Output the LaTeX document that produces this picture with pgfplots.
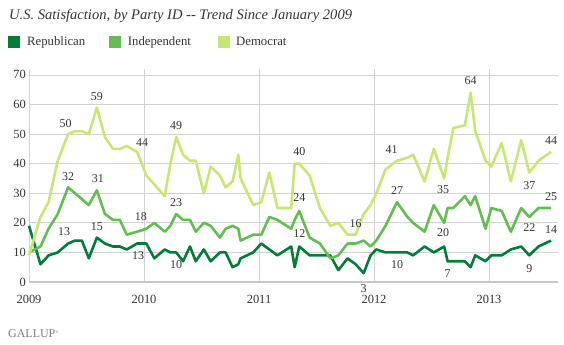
\documentclass[border=0pt]{standalone}
\usepackage{fontspec}
\setmainfont{Liberation Serif}
\usepackage{pgfplots}
\pgfplotsset{compat=1.18}
\usepackage{pgfplotstable}
\definecolor{rep}{RGB}{0,125,55}
\definecolor{ind}{RGB}{98,190,80}
\definecolor{dem}{RGB}{200,230,115}
\definecolor{gridc}{RGB}{210,210,210}
\definecolor{axisc}{RGB}{200,200,200}
\definecolor{txt}{RGB}{51,51,51}
\definecolor{logo}{RGB}{125,125,125}
\tikzset{lab/.style={font=\fontsize{12}{12}\selectfont, text=txt, inner sep=0pt, anchor=center}}

\pgfplotstableread{
x R I D
2009.00 19 10 9
2009.10 6 12 22
2009.17 9 18 27
2009.25 10 23 41
2009.34 13 32 50
2009.40 14 30 51
2009.46 14 28 51
2009.52 8 26 50
2009.59 15 31 59
2009.66 13 23 49
2009.73 12 21 45
2009.79 12 21 45
2009.85 11 16 46
2009.94 13 17 44
2010.02 13 18 36
2010.09 8 20 33
2010.18 11 17 29
2010.23 10 19 40
2010.28 10 23 49
2010.34 7 21 43
2010.40 12 21 41
2010.45 7 17 41
2010.52 11 20 30
2010.58 7 19 39
2010.66 10 15 36
2010.71 10 18 32
2010.77 5 19 34
2010.82 6 18 43
2010.84 8 14 35
2010.95 10 16 26
2011.02 13 16 27
2011.09 11 22 37
2011.16 9 21 25
2011.24 11 19 25
2011.28 12 18 25
2011.31 5 21 40
2011.35 12 24 40
2011.44 9 15 36
2011.53 9 13 25
2011.62 9 8 19
2011.69 4 9 20
2011.77 8 13 16
2011.84 6 13 16
2011.91 3 14 23
2011.97 9 12 26
2012.02 11 14 30
2012.10 10 19 38
2012.20 10 27 41
2012.29 10 22 42
2012.34 9 20 43
2012.44 12 17 34
2012.52 10 26 45
2012.61 12 20 35
2012.64 7 25 42
2012.69 7 25 52
2012.79 7 29 53
2012.84 5 26 64
2012.88 9 29 51
2012.97 7 18 41
2013.02 9 25 39
2013.11 9 24 47
2013.19 11 17 34
2013.28 12 25 48
2013.35 9 22 37
2013.43 12 25 41
2013.54 14 25 44
}\data

\begin{document}
\begin{tikzpicture}[x=1bp,y=1bp]
\useasboundingbox (0,0) rectangle (564,344);
\begin{axis}[
  at={(29bp,62bp)}, anchor=south west,
  scale only axis, width=529bp, height=213bp,
  xmin=2009, xmax=2013.6, ymin=0, ymax=72,
  axis x line*=bottom, axis y line*=left,
  xtick={2009,2010,2011,2012,2013},
  xticklabels={2009,2010,2011,2012,2013},
  ytick={0,10,20,30,40,50,60,70},
  grid=major, major grid style={gridc, line width=0.8bp},
  major tick length=0pt,
  x axis line style={line width=2bp, draw=axisc},
  y axis line style={line width=0.8bp, draw=gridc},
  ticklabel style={font=\fontsize{12.5}{12.5}\selectfont, text=txt},
  yticklabel style={anchor=east, inner sep=0pt, xshift=-3bp},
  xticklabel style={anchor=north, inner sep=0pt, yshift=-13bp},
  /pgf/number format/assume math mode=true,
  clip=false,
]
\addplot[rep, line width=2.6bp, line join=round] table[x=x,y=R]{\data};
\addplot[ind, line width=2.6bp, line join=round] table[x=x,y=I]{\data};
\addplot[dem, line width=2.6bp, line join=round] table[x=x,y=D]{\data};
% Democrat labels
\node[lab, xshift=-2.5bp, yshift=11bp] at (axis cs:2009.34,50) {50};
\node[lab, yshift=11bp] at (axis cs:2009.59,59) {59};
\node[lab, xshift=5bp, yshift=9.5bp] at (axis cs:2009.94,44) {44};
\node[lab, yshift=11.5bp] at (axis cs:2010.28,49) {49};
\node[lab, yshift=12.5bp] at (axis cs:2011.35,40) {40};
\node[lab, yshift=11.5bp] at (axis cs:2011.84,16) {16};
\node[lab, xshift=-5.5bp, yshift=11.5bp] at (axis cs:2012.20,41) {41};
\node[lab, yshift=12.5bp] at (axis cs:2012.84,64) {64};
\node[lab, xshift=-1bp, yshift=-11.5bp] at (axis cs:2012.61,35) {35};
\node[lab, yshift=-13bp] at (axis cs:2013.35,37) {37};
\node[lab, yshift=11bp] at (axis cs:2013.54,44) {44};
% Independent labels
\node[lab, yshift=10.5bp] at (axis cs:2009.34,32) {32};
\node[lab, xshift=1bp, yshift=11.5bp] at (axis cs:2009.59,31) {31};
\node[lab, xshift=-5.5bp, yshift=12bp] at (axis cs:2010.02,18) {18};
\node[lab, yshift=11.5bp] at (axis cs:2010.28,23) {23};
\node[lab, yshift=13bp] at (axis cs:2011.35,24) {24};
\node[lab, yshift=11.5bp] at (axis cs:2012.20,27) {27};
\node[lab, xshift=-1bp, yshift=-10bp] at (axis cs:2012.61,20) {20};
\node[lab, yshift=-10.5bp] at (axis cs:2013.35,22) {22};
\node[lab, yshift=11bp] at (axis cs:2013.54,25) {25};
% Republican labels
\node[lab, xshift=-4bp, yshift=11.5bp] at (axis cs:2009.34,13) {13};
\node[lab, yshift=11.5bp] at (axis cs:2009.59,15) {15};
\node[lab, xshift=1bp, yshift=-12.5bp] at (axis cs:2009.94,13) {13};
\node[lab, yshift=-12bp] at (axis cs:2010.28,10) {10};
\node[lab, yshift=12.5bp] at (axis cs:2011.35,12) {12};
\node[lab, yshift=-15bp] at (axis cs:2011.91,3) {3};
\node[lab, yshift=-12.5bp] at (axis cs:2012.20,10) {10};
\node[lab, yshift=-12bp] at (axis cs:2012.64,7) {7};
\node[lab, yshift=-13.5bp] at (axis cs:2013.35,9) {9};
\node[lab, yshift=11bp] at (axis cs:2013.54,14) {14};
\end{axis}
% title
\node[anchor=base west, inner sep=0pt, text=txt] at (9,325) {\fontsize{14.6}{14.6}\selectfont\itshape U.S. Satisfaction, by Party ID -{}- Trend Since January 2009};
% legend
\fill[rep] (8.3,295.7) rectangle (20,308.3);
\node[anchor=base west, inner sep=0pt, text=txt] at (27,299) {\fontsize{12.8}{12.8}\selectfont Republican};
\fill[ind] (109.3,295.7) rectangle (120.7,308.3);
\node[anchor=base west, inner sep=0pt, text=txt] at (127.7,299) {\fontsize{12.8}{12.8}\selectfont Independent};
\fill[dem] (218.3,295.7) rectangle (230,308.3);
\node[anchor=base west, inner sep=0pt, text=txt] at (236,299) {\fontsize{12.8}{12.8}\selectfont Democrat};
% logo
\node[anchor=base west, inner sep=0pt, text=logo] at (8,7) {\fontsize{12}{12}\selectfont GALLUP\raisebox{4bp}{\fontsize{4}{4}\selectfont\textregistered}};
\end{tikzpicture}
\end{document}
